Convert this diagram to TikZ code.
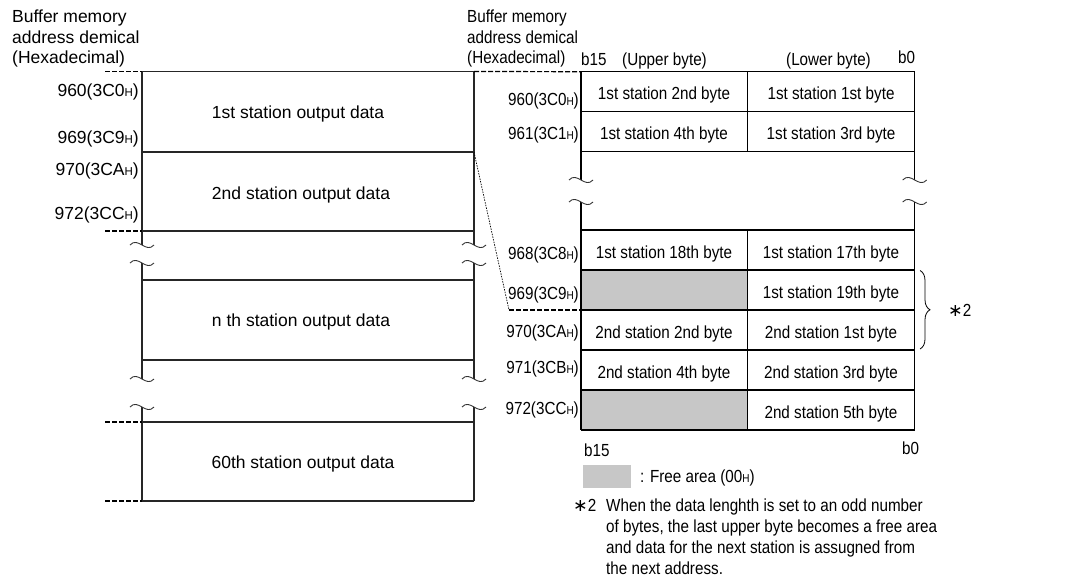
\documentclass[tikz,border=0pt]{standalone}
\usepackage{fontspec}
\setmainfont{Liberation Sans}
\newfontfamily\condf[FakeStretch=0.87]{Liberation Sans}
\newfontfamily\symf{DejaVu Sans}
\usetikzlibrary{decorations.pathreplacing}
\newcommand\hsub{{\fontsize{11.5}{12}\selectfont H}}
\newcommand\astr{{\symf ∗}}
\newcommand\wavemark[2]{\draw[wavy,shift={(#1,#2)}] (-12,0) .. controls (-4,-9) and (4,9) .. (12,0);}
\begin{document}
\begin{tikzpicture}[x=1pt,y=-1pt,
  every node/.style={inner sep=0pt,font=\fontsize{17.5}{20}\selectfont},
  rt/.style={font=\condf\fontsize{17.5}{20}\selectfont},
  lbox/.style={draw=black!85,line width=1.2},
  tab/.style={draw=black,line width=1.3},
  wavy/.style={draw=black!80,line width=0.9},
  tick/.style={draw=black,line width=1.2,dash pattern=on 5pt off 2pt},
  dotl/.style={draw=black,line width=0.7,dash pattern=on 1.5pt off 1.2pt},
  hd/.style={anchor=base west},
  addrl/.style={anchor=base east},
  cell/.style={anchor=base,rt},
  freecell/.style={fill=black!22}]
\useasboundingbox (0,0) rectangle (1076,581);

% ---------------- left headers
\node[hd] (lh1) at (12,22.5) {Buffer memory};
\node[hd] (lh2) at (12,43) {address demical};
\node[hd] (lh3) at (12,63) {(Hexadecimal)};

% ---------------- left box
\coordinate (LT) at (474,71.5);
\coordinate (LM) at (474,152);
\draw[lbox] (142,71.5) -- (474,71.5);
\draw[lbox] (142,152) -- (474,152);
\draw[lbox] (142,231) -- (474,231);
\draw[lbox] (142,280) -- (474,280);
\draw[lbox] (142,360) -- (474,360);
\draw[lbox] (142,422) -- (474,422);
\draw[lbox] (142,501) -- (474,501);
\foreach \x in {142,474}{
  \draw[lbox] (\x,71.5) -- (\x,245);
  \draw[lbox] (\x,263) -- (\x,379);
  \draw[lbox] (\x,407) -- (\x,501);
  \wavemark{\x}{245}
  \wavemark{\x}{263}
  \wavemark{\x}{379}
  \wavemark{\x}{407}
}
\foreach \y in {71.5,231,422,501}{\draw[tick] (105,\y) -- (142,\y);}

\node[anchor=base] (s1) at (298,118.3) {1st station output data};
\node[anchor=base] (s2) at (301,199) {2nd station output data};
\node[anchor=base] (sn) at (301,326) {n th station output data};
\node[anchor=base] (s60) at (303,468.3) {60th station output data};

\node[addrl] (la1) at (139,96) {960(3C0\hsub)};
\node[addrl] (la2) at (139,143) {969(3C9\hsub)};
\node[addrl] (la3) at (139,175) {970(3CA\hsub)};
\node[addrl] (la4) at (139,219.5) {972(3CC\hsub)};

% ---------------- right headers
\node[hd,rt] (rh1) at (467,22.5) {Buffer memory};
\node[hd,rt] (rh2) at (467,43) {address demical};
\node[hd,rt] (rh3) at (467,63) {(Hexadecimal)};
\node[hd,rt] (b15t) at (581,65.7) {b15};
\node[hd,rt] (upb) at (622,65) {(Upper byte)};
\node[hd,rt] (lob) at (786,65) {(Lower byte)};
\node[hd,rt] (b0t) at (898,63.3) {b0};

% ---------------- right table
\fill[freecell] (581,270) rectangle (747.7,310);
\fill[freecell] (581,390) rectangle (747.7,430);
\coordinate (RT) at (581,71.7);
\coordinate (RB) at (581,310);
\coordinate (DK) at (509,310);
\foreach \y in {71.7,111.7,151.7,230,270,310,350,390,430}{\draw[tab] (581,\y) -- (914.7,\y);}
\draw[tab] (747.7,71.7) -- (747.7,151.7);
\draw[tab] (747.7,230) -- (747.7,430);
\foreach \x in {581,914.7}{
  \draw[tab] (\x,71.7) -- (\x,180);
  \draw[tab] (\x,202) -- (\x,430);
  \wavemark{\x}{180}
  \wavemark{\x}{202}
}

% connectors
\draw[tick] (LT) -- (RT);
\draw[dotl] (LM) -- (DK);
\draw[tick] (DK) -- (RB);

% addresses right
\node[addrl,rt] (ra1) at (579,105) {960(3C0\hsub)};
\node[addrl,rt] (ra2) at (579,139.3) {961(3C1\hsub)};
\node[addrl,rt] (ra3) at (579,259.3) {968(3C8\hsub)};
\node[addrl,rt] (ra4) at (579,299.3) {969(3C9\hsub)};
\node[addrl,rt] (ra5) at (579,337.7) {970(3CA\hsub)};
\node[addrl,rt] (ra6) at (579,373) {971(3CB\hsub)};
\node[addrl,rt] (ra7) at (579,414) {972(3CC\hsub)};

% cells
\node[cell] (c11) at (664,99) {1st station 2nd byte};
\node[cell] (c12) at (831,99) {1st station 1st byte};
\node[cell] (c21) at (664,139.5) {1st station 4th byte};
\node[cell] (c22) at (831,139.5) {1st station 3rd byte};
\node[cell] (c31) at (664,258) {1st station 18th byte};
\node[cell] (c32) at (831,258) {1st station 17th byte};
\node[cell] (c42) at (831,298) {1st station 19th byte};
\node[cell] (c51) at (664,338) {2nd station 2nd byte};
\node[cell] (c52) at (831,338) {2nd station 1st byte};
\node[cell] (c61) at (664,378) {2nd station 4th byte};
\node[cell] (c62) at (831,378) {2nd station 3rd byte};
\node[cell] (c72) at (831,418) {2nd station 5th byte};

% brace
\coordinate (BrT) at (920,270.5);
\coordinate (BrB) at (920,349);
\draw[line width=0.8,decorate,decoration={brace,amplitude=10pt,raise=0pt}] (BrT) -- (BrB);
\node[anchor=west,rt] (ast) at (948,310) {\astr 2};

% bottom labels
\node[hd,rt] (b15b) at (584,456.7) {b15};
\node[hd,rt] (b0b) at (902,454) {b0};
\fill[freecell] (583,465) rectangle (631,488);
\node[hd,rt] (free) at (640,482.3) {: Free area (00\hsub)};

% footnote
\node[hd,rt] (fa) at (573,511) {\astr 2};
\node[hd,rt] (f1) at (606,511) {When the data lenghth is set to an odd number};
\node[hd,rt] (f2) at (606,532.5) {of bytes, the last upper byte becomes a free area};
\node[hd,rt] (f3) at (606,553) {and data for the next station is assugned from};
\node[hd,rt] (f4) at (606,574) {the next address.};
\end{tikzpicture}
\end{document}
